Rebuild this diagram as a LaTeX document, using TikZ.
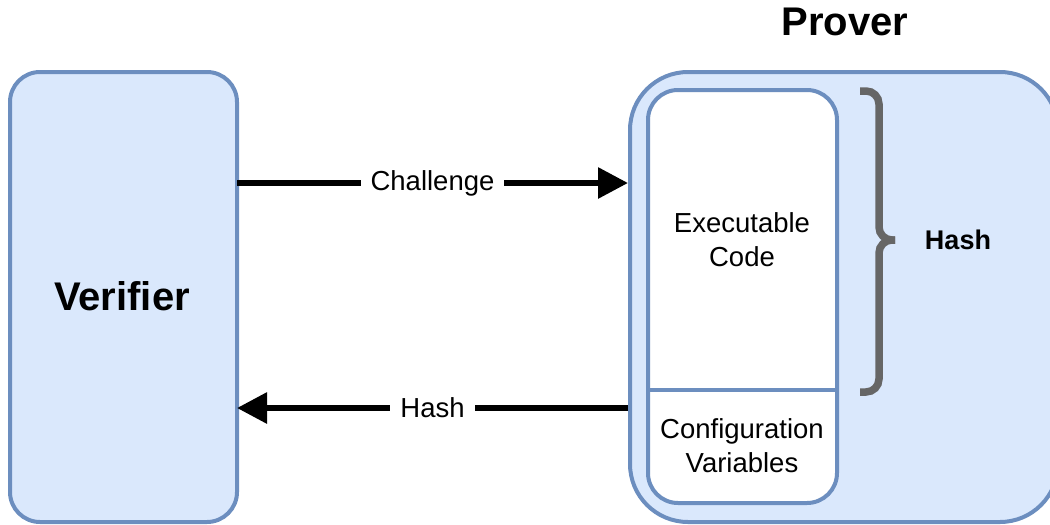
\documentclass[tikz,border=0pt]{standalone}
\usepackage{fontspec}
\setmainfont{Liberation Sans}
\usetikzlibrary{arrows.meta}
\definecolor{boxfill}{HTML}{DAE8FC}
\definecolor{boxline}{HTML}{6C8EBF}
\definecolor{bracegray}{HTML}{666666}
\begin{document}
\begin{tikzpicture}[x=1pt,y=-1pt,
  party/.style={draw=boxline, fill=boxfill, line width=4pt,
    rounded corners=#1, inner sep=0pt, outer sep=0pt},
  membox/.style={draw=boxline, fill=white, line width=4pt,
    rounded corners=30pt, inner sep=0pt},
  txt/.style={font=\fontsize{27.5}{34}\selectfont, align=center, inner sep=0pt},
  bigtxt/.style={font=\fontsize{40}{48}\selectfont\bfseries, inner sep=0pt},
  msg/.style={line width=6pt, -{Triangle[length=30pt,width=30pt]}},
  msglabel/.style={txt, fill=white, inner xsep=10pt, inner ysep=4pt},
  bracket/.style={draw=bracegray, line width=7.5pt, rounded corners=13pt}]
  \useasboundingbox (0,0) rectangle (1050,525);
  \clip (0,0) rectangle (1050,525);

  % the two parties
  \node[party=30pt, minimum width=227pt, minimum height=450pt] (ver) at (123.5,297) {};
  \node[bigtxt] (vertxt) at (122,296) {Verifier};
  \node[party=58pt, minimum width=428pt, minimum height=450pt] (prov) at (844,297) {};
  \node[bigtxt] (provtxt) at (845,22) {Prover};

  % prover memory: code and configuration
  \node[membox, minimum width=189pt, minimum height=413pt] (mem) at (742.5,296.5) {};
  \coordinate (split) at (742.5,390);
  \draw[draw=boxline, line width=4pt] (mem.west |- split) -- (mem.east |- split);
  \node[txt] (exec) at (742,240) {Executable\\Code};
  \node[txt] (conf) at (742,446) {Configuration\\Variables};

  % brace over the executable code
  \coordinate (btop) at (860,91);
  \coordinate (bbot) at (860,392);
  \coordinate (btip) at (895,240);
  \draw[bracket] (btop) -- (879,91) -- (879,240) -- (btip);
  \draw[bracket] (bbot) -- (879,392) -- (879,240) -- (btip);
  \node[txt, font=\fontsize{27}{32}\selectfont\bfseries] (hashtxt) at (958,240) {Hash};

  % messages
  \draw[msg] ([yshift=114pt]ver.east) -- node[msglabel] {Challenge} ([yshift=114pt,xshift=-2pt]prov.west);
  \draw[msg] ([yshift=-111pt,xshift=-2pt]prov.west) -- node[msglabel] {Hash} ([yshift=-111pt]ver.east);
\end{tikzpicture}
\end{document}
